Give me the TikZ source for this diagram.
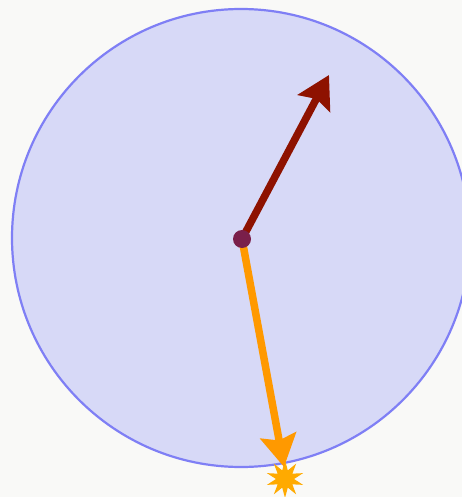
\documentclass[tikz,border=0pt]{standalone}
\usepackage{tikz}
\usetikzlibrary{
    arrows.meta,
    shapes.geometric
}
\usepackage{xcolor}
\definecolor{paper}{HTML}{F9F9F7}
\definecolor{discfill}{HTML}{D7D9F7}
\definecolor{discedge}{HTML}{7F7FF5}
\definecolor{darkred}{HTML}{8E1200}
\definecolor{pivotcol}{HTML}{7A1F4A}
\definecolor{orangecol}{HTML}{FF9900}
\definecolor{starcol}{HTML}{FFAA00}
\tikzstyle{disc} = [
    circle,
    draw=discedge,
    line width=2.2pt,
    fill=discfill,
    minimum size=458pt,
    inner sep=0pt
]
\tikzstyle{pivot} = [
    circle,
    fill=pivotcol,
    minimum size=18pt,
    inner sep=0pt
]
\tikzstyle{burst} = [
    star,
    star points=10,
    star point ratio=2.1,
    fill=starcol,
    minimum size=38pt,
    inner sep=0pt
]
\tikzstyle{vec} = [
    -{Stealth[length=32pt, width=36pt, inset=5pt]},
    line width=7.5pt
]

\begin{document}
\begin{tikzpicture}[x=1pt, y=-1pt]
    % page and margins
    \fill[paper] (0,0) rectangle (462,497);
    \useasboundingbox (0,0) rectangle (462,497);

    % disc
    \node[disc] (disc) at (241,238) {};

    % end points
    \coordinate (up) at (329,75);
    \coordinate (down) at (284,467);

    % impact burst
    \node[burst] (hit) at (285,479) {};

    % vectors
    \draw[vec, draw=darkred, fill=darkred] (242,239) -- (up);
    \draw[vec, draw=orangecol, fill=orangecol] (242,239) -- (down);

    % pivot
    \node[pivot] (centre) at (242,239) {};
\end{tikzpicture}
\end{document}
